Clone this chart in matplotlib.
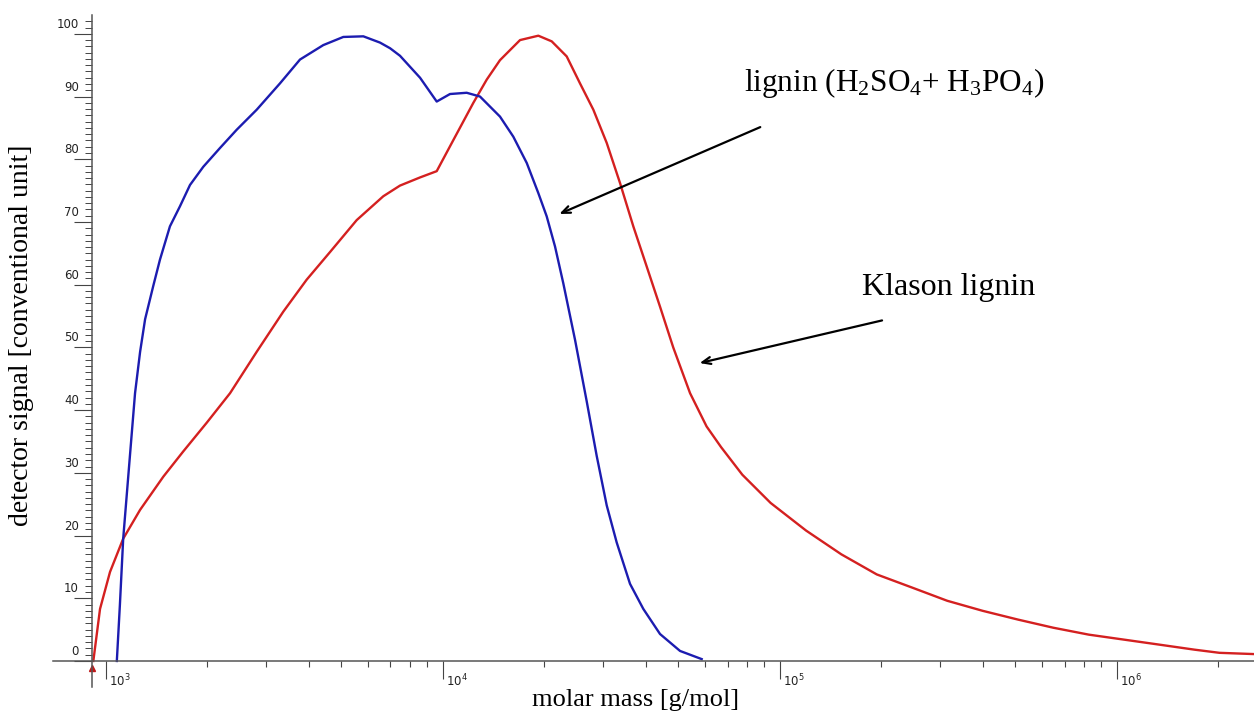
import matplotlib
matplotlib.use("Agg")
import matplotlib.pyplot as plt
import matplotlib.transforms as mtransforms
from matplotlib.ticker import FixedLocator, NullFormatter

plt.rcParams["mathtext.fontset"] = "custom"
plt.rcParams["mathtext.rm"] = "Liberation Serif"
plt.rcParams["mathtext.it"] = "Liberation Serif:italic"

blue_mass = [1079, 1102, 1127, 1180, 1222, 1265, 1309, 1384, 1449, 1551,
             1661, 1779, 1948, 2184, 2447, 2806, 3290, 3772, 4422, 5070,
             5814, 6516, 6979, 7469, 8565, 9599, 10512, 11782, 12902, 14791,
             16200, 17760, 19220, 20350, 21540, 22800, 24700, 26750, 28640, 30670,
             32830, 35960, 39380, 44140, 50610, 58680]
blue_signal = [0, 9, 19.5, 32.7, 42.7, 49.3, 54.5, 59.8, 64.0, 69.3,
               72.5, 75.9, 78.8, 81.8, 84.7, 87.9, 92.1, 95.9, 98.2, 99.5,
               99.6, 98.6, 97.7, 96.5, 93.0, 89.2, 90.4, 90.6, 90.0, 86.8,
               83.6, 79.4, 74.6, 70.9, 66.1, 60.2, 51.2, 41.4, 32.7, 24.8,
               18.9, 12.3, 8.3, 4.3, 1.6, 0.3]

red_mass = [919, 962, 1030, 1127, 1265, 1483, 1698, 1995, 2339, 2806,
            3365, 3948, 4630, 5557, 6664, 7469, 8565, 9599, 10740, 12330,
            13510, 14791, 16960, 19220, 21060, 23330, 25550, 27990, 30670, 33590,
            36780, 40300, 44140, 48310, 54200, 60670, 66990, 77450, 93970, 119700,
            152400, 194100, 247200, 314100, 400000, 509300, 648600, 826000, 1052000, 1340000,
            1703000, 2018000, 2553000]
red_signal = [0, 8.3, 14.2, 19.5, 24.1, 29.4, 33.4, 38.0, 42.7, 49.3,
              55.7, 60.8, 65.2, 70.3, 74.1, 75.8, 77.1, 78.1, 83.0, 89.0,
              92.7, 95.8, 99.0, 99.7, 98.8, 96.4, 92.1, 87.9, 82.6, 76.2,
              69.3, 62.9, 56.5, 50.0, 42.7, 37.4, 34.1, 29.7, 25.2, 20.8,
              17.0, 13.8, 11.7, 9.6, 8.0, 6.6, 5.3, 4.2, 3.4, 2.6,
              1.8, 1.3, 1.1]

y_major = list(range(0, 101, 10))
x_major = [1e3, 1e4, 1e5, 1e6]
x_exponents = ["3", "4", "5", "6"]

x_min, x_max = 697.6, 2.555e6
x_origin = 910
y_min, y_max = -4.15, 103.0

fig = plt.figure(figsize=(12.54, 7.15), dpi=100)
ax = fig.add_axes([0.04226, 0.03916, 0.95774, 0.93986])

ax.plot(red_mass, red_signal, color="#d42020", lw=1.7, solid_joinstyle="round")
ax.plot(blue_mass, blue_signal, color="#1c1cb0", lw=1.7, solid_joinstyle="round")
ax.plot([x_origin], [-1.2], marker="^", color="#c01818", markersize=4, clip_on=False)

ax.set_xscale("log")
ax.set_xlim(x_min, x_max)
ax.set_ylim(y_min, y_max)

# *** ejes tipo "cruz"
for lado in ["top", "right"]:
    ax.spines[lado].set_visible(False)
ax.spines["bottom"].set_position(("data", 0))
ax.spines["left"].set_position(("data", x_origin))
for lado in ["bottom", "left"]:
    ax.spines[lado].set_color("#555555")
    ax.spines[lado].set_linewidth(1.1)

ax.yaxis.set_major_locator(FixedLocator(y_major))
ax.yaxis.set_minor_locator(FixedLocator(list(range(0, 103))))
ax.xaxis.set_major_locator(FixedLocator(x_major))
minor_x = [k * 10 ** d for d in range(3, 7) for k in range(2, 10) if k * 10 ** d < x_max]
ax.xaxis.set_minor_locator(FixedLocator(minor_x))
ax.xaxis.set_major_formatter(NullFormatter())
ax.xaxis.set_minor_formatter(NullFormatter())
ax.yaxis.set_major_formatter(NullFormatter())

ax.tick_params(axis="y", which="major", direction="out", length=13, width=0.8, color="#444444")
ax.tick_params(axis="y", which="minor", direction="out", length=5, width=0.7, color="#444444")
ax.tick_params(axis="x", which="major", direction="out", length=13, width=0.8, color="#444444")
ax.tick_params(axis="x", which="minor", direction="out", length=4, width=0.8, color="#444444")

# etiquetas de los ejes pequeñas, como en el original
off_y = mtransforms.offset_copy(ax.transData, fig=fig, x=-13, y=3, units="dots")
for v in y_major:
    ax.text(x_origin, v, str(v), transform=off_y, ha="right", va="bottom",
            fontsize=8.5, color="#222222", family="DejaVu Sans")

off_x = mtransforms.offset_copy(ax.transData, fig=fig, x=3, y=-12, units="dots")
for xv, ex in zip(x_major, x_exponents):
    ax.text(xv, 0, r"$\mathregular{10^{%s}}$" % ex, transform=off_x, ha="left", va="top",
            fontsize=8.5, color="#222222", family="DejaVu Sans")

serif = ["Liberation Serif", "DejaVu Serif"]
fig.text(22 / 1254, 1 - 335 / 715, "detector signal [conventional unit]", rotation=90,
         ha="center", va="center", fontsize=20, family=serif)
fig.text(636 / 1254, 1 - 700 / 715, "molar mass [g/mol]", ha="center", va="center",
         fontsize=19, family=serif)

# *** flechas y textos
ax.annotate("", xy=(21800, 71.1), xytext=(89100, 85.3),
            arrowprops=dict(arrowstyle="->,head_length=0.6,head_width=0.25", lw=1.6, color="black"))
ax.annotate("", xy=(56800, 47.4), xytext=(205000, 54.4),
            arrowprops=dict(arrowstyle="->,head_length=0.6,head_width=0.25", lw=1.6, color="black"))
ax.text(78300, 92.2, r"lignin (H$_\mathrm{2}$SO$_\mathrm{4}$+ H$_\mathrm{3}$PO$_\mathrm{4}$)",
        ha="left", va="center", fontsize=22.5, family=serif)
ax.text(175400, 59.5, "Klason lignin", ha="left", va="center", fontsize=23, family=serif)

fig.savefig("out.png", dpi=100, facecolor="white")
